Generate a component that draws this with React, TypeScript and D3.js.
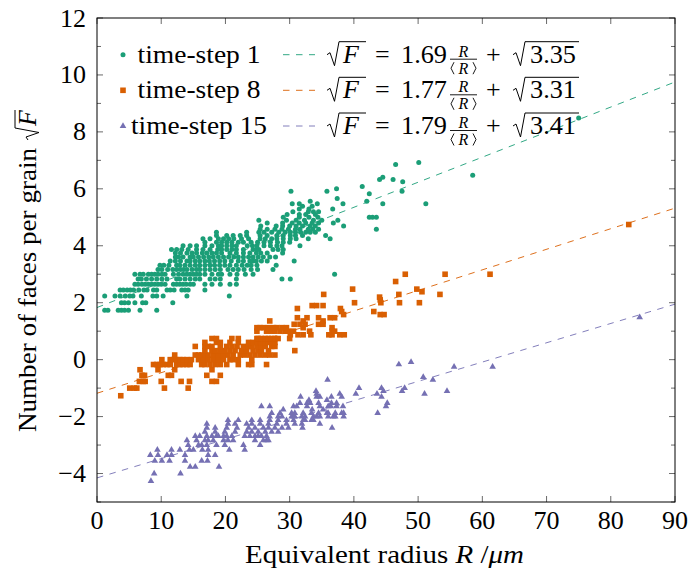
import React from 'react';
import * as d3 from 'd3';

// ---- data: [faces F, radii R of grains with that face count] ----
const ts1Rows: [number, number[]][] = [
  [3, [1.2, 1.7, 3.3, 3.8, 4.3, 4.9, 6.7, 9.3]],
  [4, [3.8, 4.3, 4.9, 5.9, 7.1, 7.6, 11.8]],
  [5, [1.2, 2.8, 3.6, 4.4, 5.1, 5.6, 6.9, 8.7, 9.3, 10.3, 14.0, 20.6]],
  [6, [3.6, 4.1, 4.7, 5.2, 5.7, 6.5, 7.3, 7.8, 8.8, 9.3, 10.9, 11.4, 12.0, 13.2, 13.7, 14.2, 16.8]],
  [7, [5.9, 6.4, 7.0, 7.5, 8.0, 8.5, 9.0, 9.5, 10.0, 10.6, 11.9, 12.4, 12.9, 13.4, 13.9, 14.5, 15.0, 16.8, 17.9, 19.2, 20.7, 21.7]],
  [8, [6.4, 6.9, 7.7, 8.5, 9.3, 10.1, 10.9, 12.4, 12.9, 13.7, 14.5, 15.3, 16.0, 17.6, 18.4, 19.2, 21.7, 28.8, 30.1]],
  [9, [5.9, 6.7, 7.2, 8.0, 8.5, 9.0, 9.5, 10.1, 10.6, 11.9, 12.7, 13.4, 14.0, 14.5, 15.0, 15.5, 16.0, 16.8, 17.9, 18.9, 19.4, 20.7, 21.8, 23.1, 24.3, 37.0]],
  [10, [9.5, 10.1, 11.0, 11.8, 12.4, 13.0, 13.5, 14.0, 14.8, 15.5, 16.0, 16.8, 17.6, 18.4, 19.2, 20.4, 21.2, 22.0, 22.9, 24.0, 25.0, 27.4]],
  [11, [9.8, 10.4, 11.2, 12.4, 12.9, 13.7, 14.5, 15.3, 16.0, 16.8, 17.6, 18.3, 19.1, 19.9, 20.7, 21.7, 22.6, 23.4, 24.0, 24.9, 27.9]],
  [12, [11.4, 12.2, 13.0, 14.0, 14.5, 15.3, 16.0, 16.8, 17.5, 18.3, 19.1, 19.9, 20.9, 22.0, 22.8, 23.8, 24.3, 24.8, 25.6, 26.5, 30.7]],
  [13, [12.2, 12.7, 13.4, 14.5, 15.0, 15.8, 16.6, 17.4, 18.1, 18.9, 19.7, 20.5, 21.3, 22.0, 22.8, 23.6, 24.3, 25.1, 25.9, 26.9, 27.8]],
  [14, [12.2, 13.0, 14.0, 14.8, 15.5, 16.4, 17.1, 17.9, 18.6, 19.4, 20.7, 21.7, 22.8, 23.8, 24.8, 25.5, 26.5, 28.9]],
  [15, [11.6, 12.4, 13.2, 14.2, 15.5, 16.5, 17.6, 18.8, 19.4, 20.2, 21.0, 21.7, 22.8, 24.3, 24.8, 25.2, 27.4, 28.2, 29.0]],
  [16, [13.4, 14.5, 15.5, 16.8, 17.9, 18.9, 19.4, 20.2, 21.0, 21.7, 23.4, 24.2, 24.9, 26.0, 27.0, 28.0, 28.8, 31.6]],
  [17, [16.8, 18.6, 19.4, 20.2, 21.0, 22.0, 22.8, 24.0, 25.0, 26.0, 27.0, 28.1, 29.0, 30.0]],
  [18, [16.5, 17.6, 18.9, 19.7, 20.5, 21.3, 22.5, 23.6, 25.4, 26.2, 27.2, 28.0, 29.0, 30.1, 31.0, 32.9, 36.3]],
  [19, [18.6, 20.2, 21.2, 22.3, 23.3, 25.4, 26.5, 28.0, 29.0, 30.1, 30.9, 32.0, 35.6]],
  [20, [18.6, 23.3, 25.2, 26.0, 27.2, 28.3, 29.3, 30.1, 30.9, 31.7, 32.5, 33.2, 34.0]],
  [21, [25.4, 26.5, 27.7, 28.8, 29.8, 30.9, 31.6, 32.9, 33.6, 34.5, 43.5]],
  [22, [25.5, 27.9, 28.9, 30.0, 31.0, 32.0, 33.2, 34.0, 38.4]],
  [23, [26.5, 28.9, 30.4, 31.5, 32.5, 33.5, 34.5, 36.8]],
  [24, [25.2, 29.5, 31.0, 32.3, 33.7, 35.0, 37.5]],
  [25, [29.0, 31.5, 33.0, 34.4, 42.4, 42.9, 43.5]],
  [26, [29.6, 31.5, 32.5, 34.0]],
  [27, [30.5, 32.9, 33.7, 34.5]],
  [28, [31.5, 33.0, 36.7]],
  [29, [32.0, 33.5]],
  [30, [30.4, 31.5, 34.3, 38.3, 44.5, 51.2]],
  [31, [33.2, 42.0]],
  [32, [37.4]],
  [34, [42.4]],
  [35, [30.2, 35.8, 47.5]],
  [36, [37.3]],
  [37, [41.3]],
  [39, [47.6]],
  [40, [44.0, 46.1]],
  [41, [44.5]],
  [42, [58.5]],
  [47, [46.5]],
  [48, [50.1]],
  [72, [75.0]],
];

const ts8Rows: [number, number[]][] = [
  [3, [3.7]],
  [4, [5.1, 5.8, 6.2, 10.5, 14.2]],
  [5, [6.6, 7.2, 7.5, 10.0, 13.1, 14.4, 17.9, 18.6]],
  [6, [7.0, 7.4, 11.1, 11.6, 17.1, 19.2]],
  [7, [6.7, 9.5, 12.1, 17.9]],
  [8, [8.8, 9.3, 9.8, 10.3, 10.9, 11.4, 12.4, 12.9, 13.4, 14.0, 14.5, 16.3, 16.8, 17.6, 18.4, 19.2, 20.2, 22.0, 23.6, 24.1, 26.4]],
  [9, [10.1, 11.4, 11.9, 12.4, 12.9, 13.4, 14.0, 14.7, 15.8, 16.6, 17.3, 18.1, 18.9, 19.7, 20.7, 21.2, 22.0, 24.1]],
  [10, [12.1, 15.3, 15.8, 16.3, 16.8, 17.3, 18.1, 18.9, 19.7, 20.4, 21.2, 22.3, 23.0, 23.8, 24.6, 25.4, 26.2, 26.9, 27.7]],
  [11, [16.8, 17.9, 18.4, 19.2, 19.9, 20.7, 21.5, 22.5, 23.3, 24.3, 25.1, 25.6, 26.7, 30.8]],
  [12, [15.3, 16.8, 17.3, 17.9, 19.2, 20.2, 21.0, 21.8, 22.8, 23.6, 24.1, 24.9, 25.6, 26.2, 27.2, 27.7]],
  [13, [16.8, 18.6, 19.2, 20.7, 22.0, 23.6, 24.3, 24.9, 25.4, 25.6, 26.2, 26.7, 27.2, 27.7]],
  [14, [17.9, 18.6, 21.0, 22.0, 24.9, 25.1, 25.6, 26.2, 26.7, 27.2, 27.7, 28.2, 30.0]],
  [15, [30.1, 31.3, 32.1, 33.3, 36.1, 36.6, 37.8, 38.5]],
  [16, [24.9, 26.4, 27.2, 27.7, 28.5, 29.3, 29.8, 30.6, 33.1, 36.6, 37.0]],
  [17, [24.9, 25.4, 25.9, 26.7, 27.5, 28.0, 28.8, 29.5, 32.1, 36.6]],
  [18, [30.7, 31.6, 32.4, 34.5, 35.2]],
  [19, [26.9, 32.1, 35.2]],
  [20, [31.2, 32.7, 34.5, 36.3, 37.0]],
  [21, [38.4, 44.1, 44.7]],
  [22, [38.1, 43.1]],
  [23, [31.2, 37.9]],
  [24, [33.5, 34.2, 35.2]],
  [25, [40.1, 44.2, 47.1, 50.2]],
  [26, [44.1]],
  [27, [44.0]],
  [28, [35.3, 47.0, 53.4]],
  [29, [50.6]],
  [30, [39.8, 49.8]],
  [33, [46.5]],
  [36, [48.0, 54.2, 61.2]],
  [60, [82.8]],
];

const ts15Rows: [number, number[]][] = [
  [3, [8.4]],
  [4, [8.9, 13.0]],
  [5, [14.5, 15.3, 19.0]],
  [6, [9.0, 10.1, 11.3, 13.7, 16.3, 17.2]],
  [7, [8.3, 9.5, 10.9, 11.6, 13.7, 17.3, 18.4]],
  [8, [9.4, 11.6, 12.9, 14.4, 15.0, 16.4, 17.3, 20.6, 23.0]],
  [9, [14.2, 15.8, 16.3, 17.1, 18.6, 19.9, 22.8, 25.4]],
  [10, [14.0, 15.5, 16.8, 17.3, 18.1, 19.7, 20.4, 21.2, 24.6, 25.9, 26.4, 26.7]],
  [11, [15.3, 16.0, 17.1, 17.9, 18.6, 18.9, 19.7, 20.2, 21.0, 23.0, 23.8, 24.6, 25.1, 25.6, 26.4]],
  [12, [16.8, 18.4, 19.9, 21.5, 23.3, 24.1, 25.1, 26.2, 27.2, 28.2]],
  [13, [17.1, 18.4, 20.2, 21.8, 23.6, 24.6, 25.9, 26.7, 27.7, 28.8, 29.8, 32.0, 36.6]],
  [14, [17.1, 20.4, 21.5, 23.3, 24.1, 25.4, 26.7, 28.0, 29.5, 30.8, 31.9, 34.7]],
  [15, [20.4, 22.0, 24.1, 25.4, 26.9, 28.2, 29.5, 30.6, 32.1, 32.4, 33.4, 33.7]],
  [16, [26.9, 28.2, 28.8, 30.3, 30.6, 30.8, 31.9, 32.4, 33.7, 34.2, 34.7, 36.0, 36.8, 37.1, 38.4]],
  [17, [27.2, 28.5, 30.3, 30.8, 32.1, 33.4, 34.5, 35.8, 36.0, 37.1, 38.1, 38.4, 43.7]],
  [18, [29.0, 33.5, 35.2]],
  [19, [25.6, 26.9, 30.6, 31.1, 32.7, 34.7, 36.0, 36.4, 37.3, 38.3, 45.0]],
  [20, [31.6, 32.7, 33.2, 34.5, 36.5, 37.3, 45.2]],
  [21, [33.0, 35.8]],
  [22, [31.7, 34.2, 34.7, 36.5, 38.1, 44.3]],
  [23, [34.2, 37.8, 40.3, 43.6, 51.0]],
  [24, [34.1, 44.6, 47.5, 54.5]],
  [25, [40.8, 44.3, 47.9]],
  [28, [35.9, 52.3]],
  [29, [50.8]],
  [33, [55.6, 61.6]],
  [34, [47.0]],
  [35, [48.9]],
  [56, [84.5]],
];

const seriesNames = ['time-step 1', 'time-step 8', 'time-step 15'];
const seriesShift = [0, -3, -6];
const fitSlope = ['1.69', '1.77', '1.79'];
const fitSquare = ['3.35', '3.31', '3.41'];
const meanRadius = [19.2, 24.5, 26.4];
const colors = ['#1b9e77', '#d95f02', '#7570b3'];
const xTicks = [0, 10, 20, 30, 40, 50, 60, 70, 80, 90];
const yTicks = [-4, -2, 0, 2, 4, 6, 8, 10, 12];
const yMinorTicks = [-5, -3, -1, 1, 3, 5, 7, 9, 11];

const W = 690, H = 571;
const PL = 97, PR = 675, PT = 18, PB = 502;
const FONT = '"Liberation Serif", "DejaVu Serif", "Times New Roman", Times, serif';
const FS = 26;

const x = d3.scaleLinear().domain([0, 90]).range([PL, PR]);
const y = d3.scaleLinear().domain([-5, 12]).range([PB, PT]);

const allRows = [ts1Rows, ts8Rows, ts15Rows];

function Marker({ k, cx, cy }: { k: number; cx: number; cy: number }) {
  if (k === 0) return <circle cx={cx} cy={cy} r={2.5} fill={colors[0]} />;
  if (k === 1) return <rect x={cx - 2.8} y={cy - 2.8} width={5.6} height={5.6} fill={colors[1]} />;
  const p = d3.symbol().type(d3.symbolTriangle).size(19)() as string;
  return <path d={p} transform={`translate(${cx},${cy})`} fill={colors[2]} />;
}

function Radical({ x0, b, end }: { x0: number; b: number; end: number }) {
  return (
    <path
      d={`M${x0},${b - 8} L${x0 + 3},${b - 10} L${x0 + 7.5},${b + 3} L${x0 + 12},${b - 21} L${end},${b - 21}`}
      fill="none" stroke="#000" strokeWidth={1} strokeLinejoin="miter"
    />
  );
}

function Equation({ x0, b, a, c }: { x0: number; b: number; a: string; c: string }) {
  const fc = x0 + 136.5;
  return (
    <g>
      <Radical x0={x0} b={b} end={x0 + 39} />
      <text x={x0 + 16} y={b} fontStyle="italic">F</text>
      <text x={x0 + 48} y={b}>=</text>
      <text x={x0 + 74} y={b} textLength={46} lengthAdjust="spacingAndGlyphs">{a}</text>
      <text x={fc} y={b - 6} fontSize={16} fontStyle="italic" textAnchor="middle">R</text>
      <line x1={x0 + 123} x2={x0 + 150} y1={b - 3.5} y2={b - 3.5} stroke="#000" strokeWidth={0.9} />
      <text x={fc} y={b + 11} fontSize={16} fontStyle="italic" textAnchor="middle">R</text>
      <path d={`M${x0 + 127},${b - 0.5} L${x0 + 124},${b + 5.5} L${x0 + 127},${b + 11.5}`} fill="none" stroke="#000" strokeWidth={0.9} />
      <path d={`M${x0 + 146},${b - 0.5} L${x0 + 149},${b + 5.5} L${x0 + 146},${b + 11.5}`} fill="none" stroke="#000" strokeWidth={0.9} />
      <text x={x0 + 159} y={b}>+</text>
      <Radical x0={x0 + 186} b={b} end={x0 + 252} />
      <text x={x0 + 203} y={b} textLength={46} lengthAdjust="spacingAndGlyphs">{c}</text>
    </g>
  );
}

export default function App() {
  const legendRows = [62.7, 98.3, 134];
  const legendWidths = [123, 123, 136];
  return (
    <svg width={W} height={H} style={{ position: 'absolute', left: 0, top: 0, background: '#fff', fontFamily: FONT }}
      fontSize={FS}>
      <style>{`text { font-family: ${FONT}; }`}</style>
      <defs>
        <clipPath id="plotclip">
          <rect x={PL} y={PT} width={PR - PL} height={PB - PT} />
        </clipPath>
      </defs>
      <rect x={0} y={0} width={W} height={H} fill="#fff" />

      {/* fit lines */}
      <g clipPath="url(#plotclip)">
        {[0, 1, 2].map((k) => {
          const f = (r: number) => (+fitSlope[k]) * r / meanRadius[k] + Math.sqrt(+fitSquare[k]) + seriesShift[k];
          const line = d3.line<number>().x((r) => x(r)).y((r) => y(f(r)));
          return <path key={k} d={line([0, 90]) as string} stroke={colors[k]} strokeWidth={0.9}
            strokeDasharray="6.5 6.5" fill="none" />;
        })}
      </g>

      {/* points */}
      <g clipPath="url(#plotclip)">
        {allRows.map((rows, k) =>
          rows.flatMap(([F, rs]) =>
            rs.map((r, i) => (
              <Marker key={`${k}-${F}-${i}`} k={k} cx={x(r)} cy={y(Math.sqrt(F) + seriesShift[k])} />
            ))
          )
        )}
      </g>

      {/* ticks */}
      <g stroke="#444" strokeWidth={0.8}>
        {xTicks.map((t) => (
          <g key={`xt${t}`}>
            <line x1={x(t)} x2={x(t)} y1={PB} y2={PB - 6} />
            <line x1={x(t)} x2={x(t)} y1={PT} y2={PT + 6} />
          </g>
        ))}
        {yTicks.map((t) => (
          <g key={`yt${t}`}>
            <line x1={PL} x2={PL + 6} y1={y(t)} y2={y(t)} />
            <line x1={PR} x2={PR - 6} y1={y(t)} y2={y(t)} />
          </g>
        ))}
        {yMinorTicks.map((t) => (
          <g key={`ym${t}`}>
            <line x1={PL} x2={PL + 4} y1={y(t)} y2={y(t)} />
            <line x1={PR} x2={PR - 4} y1={y(t)} y2={y(t)} />
          </g>
        ))}
      </g>
      <rect x={PL} y={PT} width={PR - PL} height={PB - PT} fill="none" stroke="#000" strokeWidth={1} />

      {/* tick labels */}
      {xTicks.map((t) => (
        <text key={`xl${t}`} x={x(t)} y={529} textAnchor="middle">{t}</text>
      ))}
      {yTicks.map((t) => (
        <text key={`yl${t}`} x={86} y={y(t) + 8.5} textAnchor="end">{t < 0 ? `\u2212${-t}` : t}</text>
      ))}

      {/* axis labels */}
      <text x={245} y={563} textLength={279} lengthAdjust="spacingAndGlyphs">
        Equivalent radius <tspan fontStyle="italic">R</tspan> /<tspan fontStyle="italic">μm</tspan>
      </text>
      <g transform={`translate(36,262) rotate(-90)`}>
        <text x={-170} y={0} textLength={284} lengthAdjust="spacingAndGlyphs">Number of faces per grain</text>
        <Radical x0={122} b={0} end={152} />
        <text x={136} y={0} fontStyle="italic">F</text>
      </g>

      {/* legend */}
      {legendRows.map((b, k) => (
        <g key={`lg${k}`}>
          <Marker k={k} cx={123} cy={b - 8} />
          <text x={199 - legendWidths[k] / 2} y={b} textLength={legendWidths[k]} lengthAdjust="spacingAndGlyphs">{seriesNames[k]}</text>
          <line x1={283} x2={315} y1={b - 8} y2={b - 8} stroke={colors[k]} strokeWidth={0.9} strokeDasharray="6.5 6.5" />
          <Equation x0={327} b={b} a={fitSlope[k]} c={fitSquare[k]} />
        </g>
      ))}
    </svg>
  );
}
